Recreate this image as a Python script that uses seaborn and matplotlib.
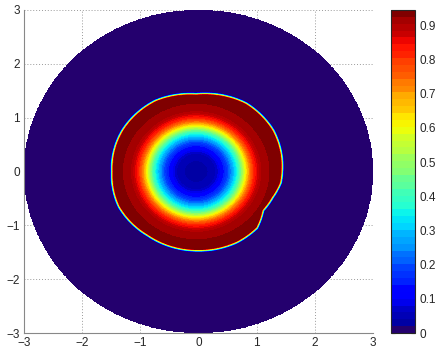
import numpy as np
import matplotlib
matplotlib.use("Agg")
import matplotlib.pyplot as plt
import seaborn as sns
from matplotlib.colors import ListedColormap

# ---- data ----
# radial profile of the ring (radius, value)
profile_r = [0.0, 0.30, 0.36, 0.45, 0.55, 0.62, 0.70, 0.77, 0.85, 0.92, 1.00, 1.08, 1.15, 1.22, 1.30, 1.42]
profile_v = [0.03, 0.045, 0.07, 0.12, 0.19, 0.26, 0.35, 0.45, 0.60, 0.72, 0.82, 0.88, 0.915, 0.91, 0.935, 0.94]
# outer edge of the ring (angle in degrees, radius)
edge_deg = [-180, -154, -125, -90, -62, -45, -32, -20, -8, 0, 30, 56, 90, 118, 149, 180]
edge_r   = [1.47, 1.50, 1.47, 1.49, 1.51, 1.50, 1.38, 1.42, 1.49, 1.50, 1.55, 1.55, 1.46, 1.51, 1.50, 1.47]
ring_center = (-0.04, 0.0)
domain_radius = 3.0
tick_vals = [-3, -2, -1, 0, 1, 2, 3]
cbar_ticks = [0, 0.1, 0.2, 0.3, 0.4, 0.5, 0.6, 0.7, 0.8, 0.9]
vmax = 0.945

# ---- build the field on a grid ----
x = np.linspace(-3, 3, 601)
y = np.linspace(-3, 3, 601)
X, Y = np.meshgrid(x, y)
dx, dy = X - ring_center[0], Y - ring_center[1]
R = np.hypot(dx, dy)
TH = np.degrees(np.arctan2(dy, dx))
Redge = np.interp(TH, edge_deg, edge_r)
Z = np.interp(R, profile_r, profile_v)
fall = np.clip((Redge - R) / 0.05, 0, 1)
Z = Z * fall
Z = np.where(np.hypot(X, Y) <= domain_radius, Z, np.nan)

# ---- colours ----
sns.set_style("white")
plt.rcParams['font.family'] = ['Liberation Sans', 'DejaVu Sans']
jet = [tuple(c[:3]) for c in matplotlib.colormaps['jet'](np.linspace(0, 1, 64))]
jet[0] = (0.14, 0.0, 0.43)
jet[1] = (0.10, 0.0, 0.50)
cmap = ListedColormap(sns.color_palette(jet))
levels = np.linspace(0, vmax, 48)

fig = plt.figure(figsize=(4.39, 3.54), dpi=100)
ax = fig.add_axes([24/439, 21/354, 349/439, 323/354])
cax = fig.add_axes([391/439, 21/354, 24/439, 323/354])

cs = ax.contourf(X, Y, Z, levels=levels, cmap=cmap, vmin=0, vmax=vmax, zorder=2)
ax.set_xlim(-3, 3)
ax.set_ylim(-3, 3)
ax.set_xticks(tick_vals)
ax.set_yticks(tick_vals)
ax.set_axisbelow(True)
ax.grid(True, linestyle=(0, (1, 2)), color='#9a9a9a', linewidth=0.7, zorder=0)
for s in ['top', 'right']:
    ax.spines[s].set_visible(False)
for s in ['left', 'bottom']:
    ax.spines[s].set_color('#888888')
    ax.spines[s].set_linewidth(0.8)
    ax.spines[s].set_zorder(3)
ax.tick_params(direction='in', length=3, labelsize=8.5, color='#888888', pad=3)

cb = fig.colorbar(cs, cax=cax, ticks=cbar_ticks)
cb.ax.tick_params(direction='in', length=3, labelsize=8.5, left=True, right=True)
cb.ax.set_yticklabels([f"{t:g}" for t in cbar_ticks])
cb.outline.set_linewidth(0.8)
cb.ax.set_ylim(0, vmax)

fig.savefig("out.png", dpi=100)
